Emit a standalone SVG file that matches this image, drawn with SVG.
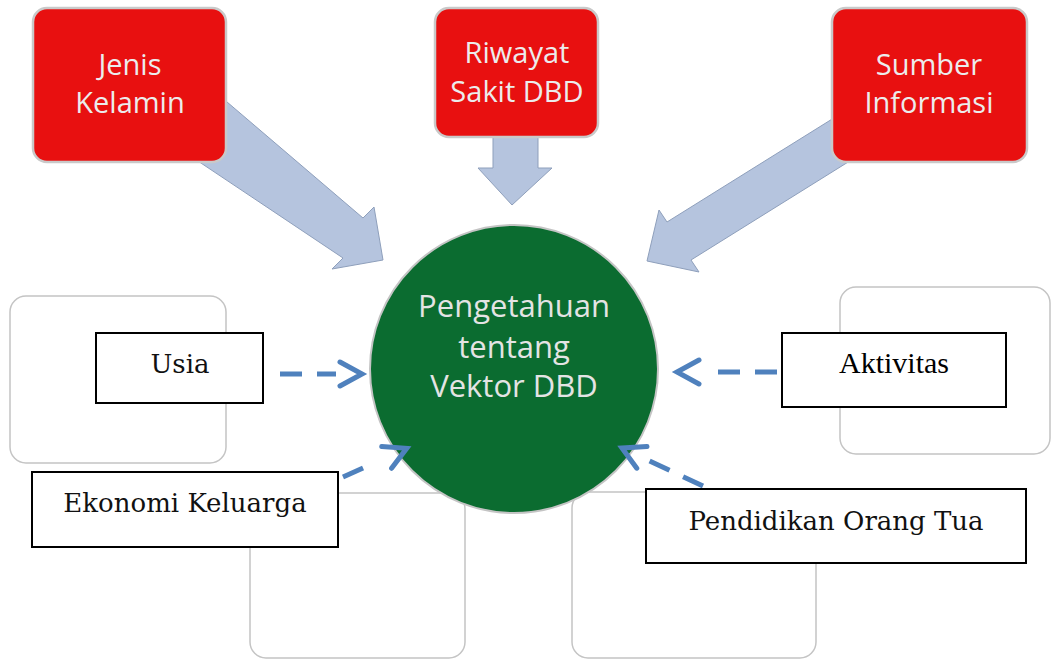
<svg xmlns="http://www.w3.org/2000/svg" width="1051" height="659" viewBox="0 0 1051 659">
<style>
.faint{fill:none;stroke:#c4c4c4;stroke-width:1.5}
.red{fill:#e81010;stroke:#c9c9c9;stroke-width:2.5}
.redtxt{font-family:"Open Sans","Noto Sans",sans-serif;font-size:29px;fill:#ececec;text-anchor:middle}
.circtxt{font-family:"Open Sans","Noto Sans",sans-serif;font-size:31px;fill:#e4e4e4;text-anchor:middle}
.blk{fill:#b5c4de;stroke:#8e9fbb;stroke-width:1}
.tbox{fill:#ffffff;stroke:#000000;stroke-width:2}
.cam{font-family:"DejaVu Serif","Liberation Serif",serif;font-size:26px;fill:#111111;text-anchor:middle}
.tim{font-family:"Liberation Serif",serif;font-size:30px;fill:#000000;text-anchor:middle}
.dash{fill:none;stroke:#4f81bd;stroke-width:5;stroke-dasharray:22 15;marker-end:url(#chev)}
</style>
<defs>
<marker id="chev" markerUnits="userSpaceOnUse" markerWidth="40" markerHeight="40" refX="0" refY="0" orient="auto" overflow="visible">
<path d="M4,-12 L26,0 L4,12" fill="none" stroke="#4f81bd" stroke-width="5" stroke-linecap="round" stroke-linejoin="miter"/>
</marker>
</defs>
<rect width="1051" height="659" fill="#ffffff"/>
<g id="background-frames">
<rect class="faint" x="10" y="296" width="216" height="167" rx="16"/>
<rect class="faint" x="840" y="287" width="210" height="167" rx="16"/>
<rect class="faint" x="250" y="493" width="215" height="165" rx="16"/>
<rect class="faint" x="572" y="492" width="244" height="166" rx="16"/>
</g>
<g id="pengetahuan">
<circle cx="514" cy="369" r="144" fill="#0b6c30" stroke="#c4c4c4" stroke-width="2"/>
<text class="circtxt" x="514" y="317">Pengetahuan</text>
<text class="circtxt" x="514" y="358">tentang</text>
<text class="circtxt" x="514" y="397">Vektor DBD</text>
</g>
<g id="connectors">
<polygon class="blk" points="142,86 179,61 363,218 374,207 383,260 332,269 343,258 159,135"/>
<polygon class="blk" points="493,100 538,100 538,168 552,168 512,205 478,168 493,168"/>
<polygon class="blk" points="837,116 861,154 691,260 699,272 647,261 659,210 667,222"/>
<path class="dash" d="M280,374 L336,374"/>
<path class="dash" d="M777,372 L703,372"/>
<path class="dash" style="stroke-dasharray:22 30" d="M343,477 L383,459"/>
<path class="dash" d="M703,486 L645.5,459"/>
</g>
<g id="jenis-kelamin">
<rect class="red" x="33" y="8" width="193" height="154" rx="14"/>
<text class="redtxt" x="130" y="75">Jenis</text>
<text class="redtxt" x="130" y="113">Kelamin</text>
</g>
<g id="riwayat-sakit">
<rect class="red" x="435" y="8" width="163" height="129" rx="14"/>
<text class="redtxt" x="517" y="63">Riwayat</text>
<text class="redtxt" x="517" y="102">Sakit DBD</text>
</g>
<g id="sumber-informasi">
<rect class="red" x="832" y="8" width="195" height="154" rx="14"/>
<text class="redtxt" x="929" y="75">Sumber</text>
<text class="redtxt" x="929" y="113">Informasi</text>
</g>
<g id="usia">
<rect class="tbox" x="96" y="333" width="167" height="70"/>
<text class="cam" x="180" y="373">Usia</text>
</g>
<g id="aktivitas">
<rect class="tbox" x="782" y="333" width="224" height="74"/>
<text class="tim" x="894" y="373">Aktivitas</text>
</g>
<g id="ekonomi-keluarga">
<rect class="tbox" x="32" y="472" width="306" height="75"/>
<text class="cam" x="185" y="512">Ekonomi Keluarga</text>
</g>
<g id="pendidikan-orang-tua">
<rect class="tbox" x="646" y="489" width="380" height="74"/>
<text class="cam" x="836" y="530">Pendidikan Orang Tua</text>
</g>
</svg>
